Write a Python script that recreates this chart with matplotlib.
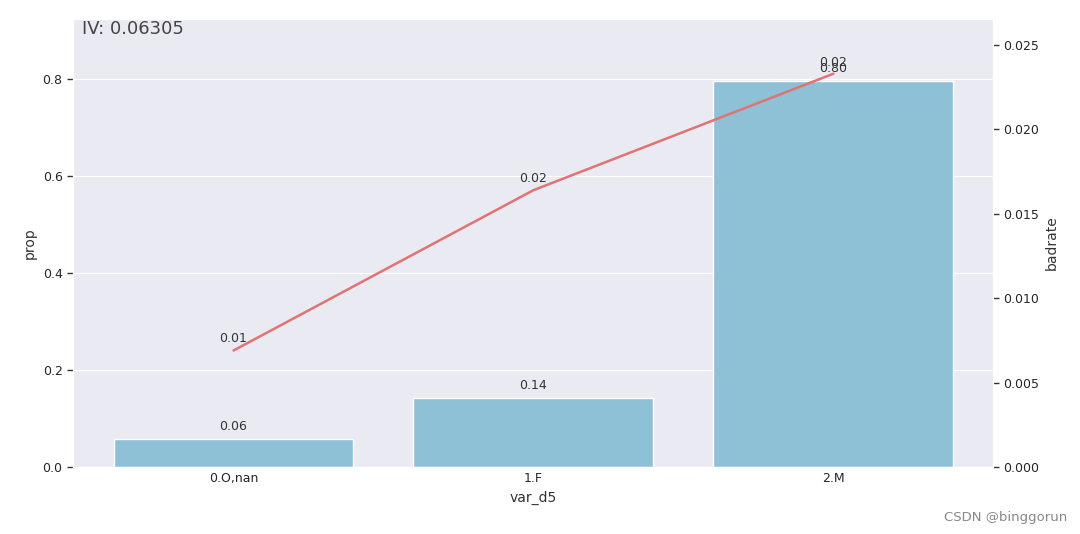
import matplotlib
matplotlib.use('Agg')
import matplotlib.pyplot as plt
import seaborn as sns
import numpy as np

# data
bins = ['0.O,nan', '1.F', '2.M']
prop = [0.058, 0.142, 0.797]
badrate = [0.0069, 0.0164, 0.0233]
iv_text = 'IV: 0.06305'

sns.set_style('darkgrid')
plt.rcParams['font.family'] = ['DejaVu Sans']

fig = plt.figure(figsize=(10.8, 5.34), dpi=100)
ax = fig.add_axes([0.0676, 0.1255, 0.8519, 0.8389])

x = np.arange(len(bins))
ax.bar(x, prop, width=0.8, color='#8ec0d6', zorder=2)
for xi, v in zip(x, prop):
    ax.text(xi, v + 0.012, '%.2f' % v, ha='center', va='bottom', fontsize=9, color='#333333')

ax.set_xlim(-0.535, 2.532)
ax.set_ylim(0, 0.924)
ax.set_xticks(x)
ax.set_xticklabels(bins)
ax.set_yticks([0.0, 0.2, 0.4, 0.6, 0.8])
ax.xaxis.grid(False)
ax.tick_params(axis='y', which='both', left=True, length=4, width=1, color='#333333', labelsize=9)
ax.tick_params(axis='x', labelsize=9, length=0)
ax.set_xlabel('var_d5', fontsize=10, color='#333333')
ax.set_ylabel('prop', fontsize=10, color='#333333')
ax.text(0.01, 0.998, iv_text, transform=ax.transAxes, ha='left', va='top', fontsize=13, color='#444444')

ax2 = ax.twinx()
ax2.plot(x, badrate, color='#e07474', linewidth=1.8)
for xi, v in zip(x, badrate):
    ax2.text(xi, v + 0.0003, '%.2f' % v, ha='center', va='bottom', fontsize=9, color='#333333')
ax2.set_ylim(0, 0.02654)
ax2.set_yticks([0.0, 0.005, 0.01, 0.015, 0.02, 0.025])
ax2.set_yticklabels(['0.000', '0.005', '0.010', '0.015', '0.020', '0.025'])
ax2.grid(False)
ax2.tick_params(axis='y', right=True, length=4, width=1, color='#333333', labelsize=9)
ax2.set_ylabel('badrate', fontsize=10, color='#333333')

fig.text(0.988, 0.018, 'CSDN @binggorun', ha='right', va='bottom', fontsize=9.5, color='#888888')

fig.savefig('out.png', dpi=100)
